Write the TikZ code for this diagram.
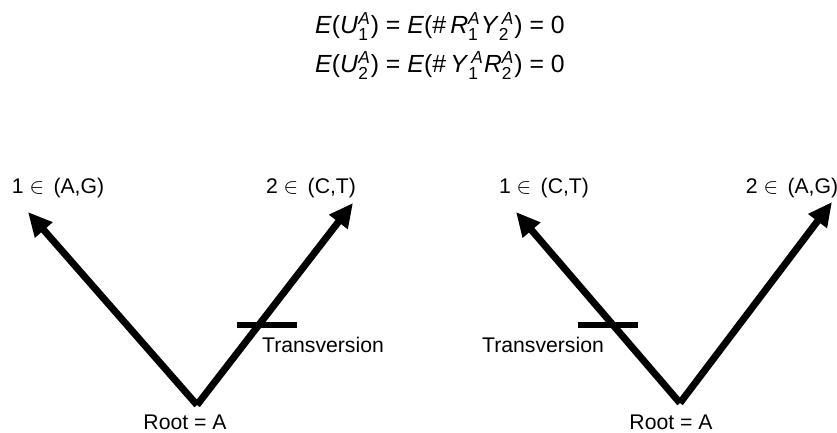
\documentclass[tikz,border=0pt]{standalone}
\usepackage{amsmath}
\usepackage{fontspec}
\setmainfont{Liberation Sans}
\usetikzlibrary{positioning,arrows.meta,calc}

\begin{document}
\begin{tikzpicture}[x=0.5pt,y=-0.5pt,every node/.style={font=\fontsize{10.6}{12}\selectfont,inner sep=0pt},
  branch/.style={line width=3.5pt,-{Triangle[length=12pt,width=11pt]}},
  bar/.style={line width=3.2pt},
  eqn/.style={font=\fontsize{12.4}{14}\selectfont}]
\useasboundingbox (0,0) rectangle (837,433);
\node[eqn] (eqA) at (440,27) {\textit{E}(\textit{U}$^{\textit{A}}_{\text{1}}$) = \textit{E}(\#\,\textit{R}$^{\textit{A}}_{\text{1}}$\textit{Y}$^{\,\textit{A}}_{\text{2}}$) = 0};
\node[eqn] (eqB) at (440,66) {\textit{E}(\textit{U}$^{\textit{A}}_{\text{2}}$) = \textit{E}(\#\,\textit{Y}$^{\,\textit{A}}_{\text{1}}$\textit{R}$^{\textit{A}}_{\text{2}}$) = 0};
\coordinate (rootL) at (197,405);
\coordinate (tipLa) at (28,212);
\coordinate (tipLb) at (353,203);
\draw[branch] (rootL) -- (tipLa);
\draw[branch] (rootL) -- (tipLb);
\draw[bar] (237,325) -- (297,325);
\node (labLa) at (58,188) {1 $\in$\, (A,G)};
\node (labLb) at (311,188) {2 $\in$\, (C,T)};
\node (rootLtxt) at (185,422) {Root = A};
\node (trL) at (323,345) {Transversion};
\coordinate (rootR) at (680,403);
\coordinate (tipRa) at (516,212);
\coordinate (tipRb) at (832,202);
\draw[branch] (rootR) -- (tipRa);
\draw[branch] (rootR) -- (tipRb);
\draw[bar] (578,325) -- (638,325);
\node (labRa) at (544,188) {1 $\in$\, (C,T)};
\node (labRb) at (792,188) {2 $\in$\, (A,G)};
\node (rootRtxt) at (671,422) {Root = A};
\node (trR) at (543,345) {Transversion};
\end{tikzpicture}
\end{document}
